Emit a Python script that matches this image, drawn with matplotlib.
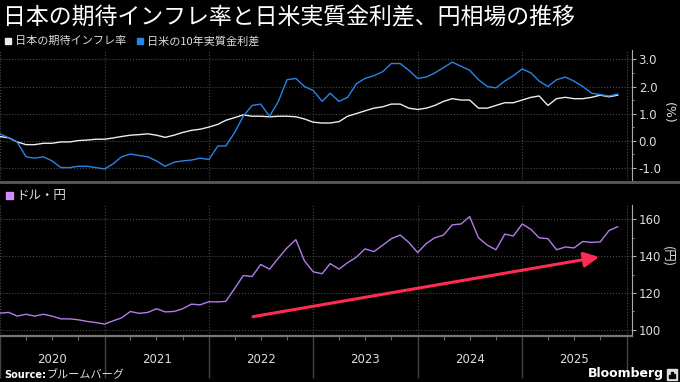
import numpy as np
import pandas as pd
import matplotlib
matplotlib.use('Agg')
import matplotlib.pyplot as plt
import matplotlib.dates as mdates
from matplotlib.patches import Rectangle
from matplotlib.lines import Line2D
from matplotlib.ticker import FormatStrFormatter, MultipleLocator

plt.rcParams['font.family'] = ['DejaVu Sans', 'Noto Sans CJK JP']

# monthly readings, 2020-01 .. 2025-12
dates = pd.date_range('2020-01-01', periods=72, freq='MS')

infl_exp = [0.15, 0.10, -0.05, -0.15, -0.15, -0.10, -0.10, -0.05, -0.05, 0.00, 0.02, 0.05,
            0.05, 0.10, 0.15, 0.20, 0.22, 0.25, 0.20, 0.12, 0.20, 0.30, 0.38, 0.42,
            0.50, 0.60, 0.75, 0.85, 0.95, 0.90, 0.90, 0.88, 0.90, 0.90, 0.88, 0.80,
            0.68, 0.65, 0.65, 0.70, 0.90, 1.00, 1.10, 1.20, 1.25, 1.35, 1.35, 1.20,
            1.15, 1.20, 1.30, 1.45, 1.55, 1.50, 1.50, 1.20, 1.20, 1.30, 1.40, 1.40,
            1.50, 1.60, 1.65, 1.30, 1.55, 1.60, 1.55, 1.55, 1.60, 1.68, 1.62, 1.68]

real_diff = [0.25, 0.10, -0.05, -0.60, -0.65, -0.60, -0.75, -1.00, -1.00, -0.95, -0.95, -1.00,
             -1.05, -0.85, -0.60, -0.50, -0.55, -0.60, -0.75, -0.95, -0.80, -0.75, -0.72, -0.65,
             -0.70, -0.20, -0.20, 0.30, 0.90, 1.30, 1.35, 0.90, 1.45, 2.25, 2.30, 2.00,
             1.85, 1.45, 1.75, 1.45, 1.60, 2.10, 2.30, 2.40, 2.55, 2.85, 2.85, 2.60,
             2.30, 2.35, 2.50, 2.70, 2.90, 2.75, 2.60, 2.25, 2.00, 1.95, 2.20, 2.40,
             2.65, 2.50, 2.20, 2.00, 2.25, 2.35, 2.20, 2.00, 1.75, 1.70, 1.65, 1.72]

usdjpy = [109.1, 109.5, 107.5, 108.5, 107.5, 108.5, 107.5, 106.0, 106.0, 105.5, 104.6, 104.0,
          103.2, 105.0, 106.5, 110.0, 109.0, 109.5, 111.5, 109.8, 110.0, 111.5, 114.0, 113.6,
          115.3, 115.2, 115.5, 122.5, 129.5, 129.0, 135.5, 133.0, 139.0, 144.5, 149.0, 137.5,
          131.5, 130.5, 136.0, 133.0, 136.5, 139.5, 144.0, 142.5, 146.0, 149.5, 151.5, 147.5,
          142.0, 147.0, 150.0, 151.5, 157.0, 157.5, 161.5, 150.0, 146.0, 143.5, 152.0, 151.0,
          157.5, 154.5, 150.0, 149.5, 143.5, 145.0, 144.5, 148.0, 147.5, 147.8, 154.0, 156.0]

years = [2020, 2021, 2022, 2023, 2024, 2025]
top_ticks = [-1, 0, 1, 2, 3]
bottom_ticks = [100, 120, 140, 160]

arrow_start = (pd.Timestamp('2022-06-04'), 107.2)
arrow_end = (pd.Timestamp('2025-09-27'), 139.6)

title = '日本の期待インフレ率と日米実質金利差、円相場の推移'
label_infl = '日本の期待インフレ率'
label_diff = '日米の10年実質金利差'
label_fx = 'ドル・円'

c_white = '#ececec'
c_blue = '#2a84e6'
c_purple = '#b27cec'
c_arrow = '#ff2b52'
c_grid = '#4a4a4a'
c_text = '#dddddd'
cjk = ['Noto Sans CJK JP', 'DejaVu Sans']

W, H = 680, 382
fig = plt.figure(figsize=(W / 100, H / 100), dpi=100, facecolor='black')

xlim = (pd.Timestamp('2020-01-01'), pd.Timestamp('2026-01-19'))
ax1 = fig.add_axes([0, 1 - 182.5 / H, 631.7 / W, (182.5 - 50) / H])
ax2 = fig.add_axes([0, 1 - 336 / H, 631.7 / W, (336 - 205) / H])

for ax in (ax1, ax2):
    ax.set_facecolor('black')
    ax.set_xlim(xlim)
    for s in ('top', 'left', 'bottom'):
        ax.spines[s].set_visible(False)
    ax.spines['right'].set_color('#aaaaaa')
    ax.spines['right'].set_linewidth(0.8)
    ax.yaxis.tick_right()
    ax.tick_params(axis='y', which='major', colors='#aaaaaa', labelcolor=c_text,
                   labelsize=8.5, length=3, width=0.8, pad=2)
    ax.tick_params(axis='y', which='minor', colors='#aaaaaa', length=1.5, width=0.6)
    ax.xaxis.set_major_locator(mdates.YearLocator())
    ax.grid(True, which='major', color=c_grid, ls=':', lw=0.8)
    ax.set_axisbelow(True)

# top panel
ax1.plot(dates, infl_exp, color=c_white, lw=1.0)
ax1.plot(dates, real_diff, color=c_blue, lw=1.0)
ax1.set_ylim(-1.55, 3.35)
ax1.set_yticks(top_ticks)
ax1.yaxis.set_minor_locator(MultipleLocator(0.5))
ax1.yaxis.set_major_formatter(FormatStrFormatter('%.1f'))
ax1.tick_params(axis='x', which='both', length=0, labelbottom=False)

# bottom panel
ax2.plot(dates, usdjpy, color=c_purple, lw=1.0)
ax2.set_ylim(96.7, 167.8)
ax2.set_yticks(bottom_ticks)
ax2.yaxis.set_minor_locator(MultipleLocator(10))
ax2.spines['bottom'].set_visible(True)
ax2.spines['bottom'].set_color('#777777')
ax2.spines['bottom'].set_linewidth(1.6)
ax2.xaxis.set_minor_locator(mdates.MonthLocator(bymonth=[4, 7, 10]))
ax2.tick_params(axis='x', which='major', length=30, color='#444444', width=1,
                labelbottom=False)
ax2.tick_params(axis='x', which='minor', length=3, color='#666666', width=0.8)
for y in years:
    ax2.text(pd.Timestamp(f'{y}-07-02'), -0.18, str(y), transform=ax2.get_xaxis_transform(),
             ha='center', va='center', fontsize=8.5, color=c_text)

ax2.annotate('', xy=arrow_end, xytext=arrow_start,
             arrowprops=dict(arrowstyle='-|>,head_length=0.7,head_width=0.35',
                             color=c_arrow, lw=2.2, mutation_scale=13, shrinkA=0, shrinkB=0))

# separator between panels
fig.add_artist(Line2D([0, 1], [1 - 182.5 / H] * 2, color='#5a5a5a', lw=2))

# title and legends
fig.text(3 / W, 1 - 18 / H, title, fontsize=16.5, color='white', va='center', family=cjk)
fig.add_artist(Rectangle((5 / W, 1 - 44 / H), 6 / W, 6 / H, color=c_white))
fig.text(15 / W, 1 - 41 / H, label_infl, fontsize=8, color=c_text, va='center', family=cjk)
fig.add_artist(Rectangle((137 / W, 1 - 44 / H), 6 / W, 6 / H, color=c_blue))
fig.text(147 / W, 1 - 41 / H, label_diff, fontsize=8, color=c_text, va='center', family=cjk)
fig.add_artist(Rectangle((6 / W, 1 - 198.5 / H), 7 / W, 7 / H, color='#d08cff'))
fig.text(16 / W, 1 - 195 / H, label_fx, fontsize=9, color=c_text, va='center', family=cjk)

# axis units
fig.text(668 / W, 1 - 113 / H, '(%)', fontsize=9, color=c_text, rotation=270,
         ha='center', va='center')
fig.text(668 / W, 1 - 256 / H, '(円)', fontsize=9, color=c_text, rotation=270,
         ha='center', va='center', family=cjk)

# footer
fig.text(4 / W, 1 - 375 / H, 'Source:', fontsize=7, color='white', weight='bold', va='center')
fig.text(47 / W, 1 - 375 / H, 'ブルームバーグ', fontsize=8, color=c_text, va='center', family=cjk)
fig.text(664 / W, 1 - 374 / H, 'Bloomberg', fontsize=9, color='white', weight='bold',
         va='center', ha='right')
fig.add_artist(Rectangle((667 / W, 1 - 380 / H), 10 / W, 11 / H, color='#dddddd'))
for i, h in enumerate([3, 6, 4]):
    fig.add_artist(Rectangle(((669 + 2.3 * i) / W, 1 - 378 / H), 1.4 / W, h / H, color='black'))

fig.savefig('out.png', dpi=100, facecolor='black')
